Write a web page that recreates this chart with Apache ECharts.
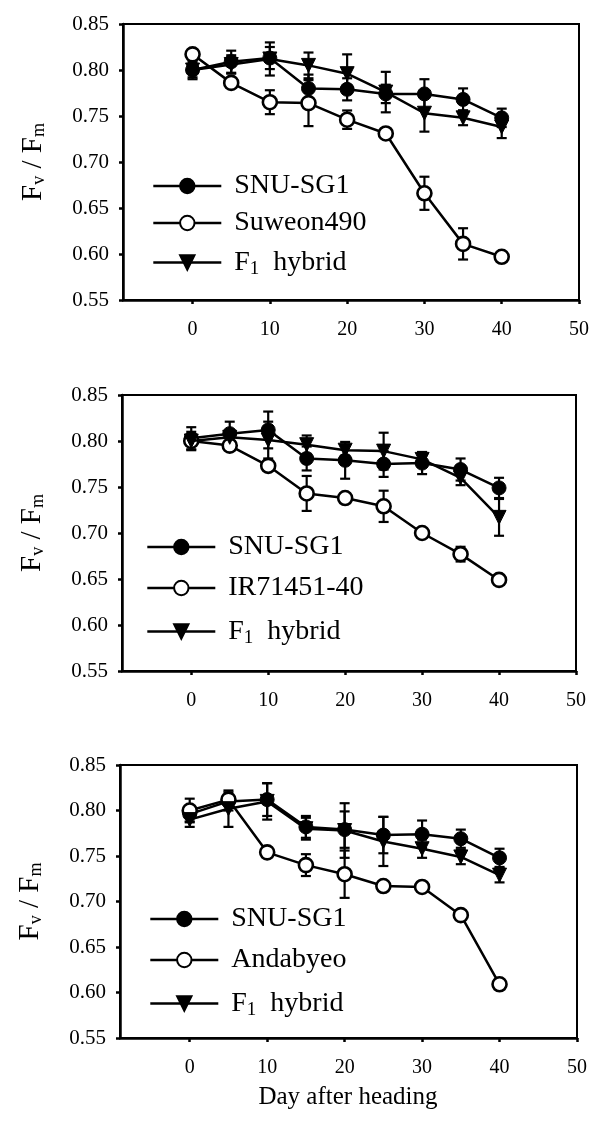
<!DOCTYPE html>
<html lang="en">
<head>
    <meta charset="utf-8">
    <title>Fv/Fm after heading</title>
    <script src="https://cdn.jsdelivr.net/npm/echarts@6/dist/echarts.min.js"></script>
</head>
<body style="margin:0; background:#fff;">
<div id="main" style="width:594px; height:1140px;"></div>
<script type="text/javascript">
    // days after heading
    const days = [0, 5, 10, 15, 20, 25, 30, 35, 40];
    const xTicks = [0, 10, 20, 30, 40, 50];

    // panel 1: SNU-SG1 x Suweon490
    const p1Snu = [0.800, 0.809, 0.813, 0.780, 0.779, 0.774, 0.774, 0.768, 0.748];
    const p1SnuErr = [0.010, 0.012, 0.012, 0.015, 0.012, 0.010, 0.016, 0.012, 0.010];
    const p1Par = [0.817, 0.786, 0.765, 0.764, 0.746, 0.731, 0.666, 0.611, 0.597];
    const p1ParErr = [0, 0, 0.013, 0.025, 0.010, 0, 0.018, 0.017, 0];
    const p1F1 = [0.800, 0.806, 0.812, 0.805, 0.796, 0.776, 0.753, 0.748, 0.738];
    const p1F1Err = [0.008, 0.010, 0.018, 0.014, 0.021, 0.022, 0.020, 0.008, 0.012];

    // panel 2: SNU-SG1 x IR71451-40
    const p2Snu = [0.803, 0.808, 0.812, 0.781, 0.779, 0.775, 0.776, 0.769, 0.749];
    const p2SnuErr = [0.012, 0.013, 0.020, 0.013, 0.020, 0.014, 0.012, 0.012, 0.011];
    const p2Par = [0.800, 0.795, 0.773, 0.743, 0.738, 0.729, 0.700, 0.677, 0.649];
    const p2ParErr = [0, 0, 0, 0.019, 0, 0.017, 0, 0.008, 0];
    const p2F1 = [0.800, 0.804, 0.801, 0.796, 0.790, 0.789, 0.780, 0.760, 0.717];
    const p2F1Err = [0.010, 0.008, 0.020, 0.010, 0.006, 0.020, 0.008, 0.008, 0.020];

    // panel 3: SNU-SG1 x Andabyeo
    const p3Snu = [0.796, 0.810, 0.812, 0.782, 0.779, 0.773, 0.774, 0.769, 0.748];
    const p3SnuErr = [0.008, 0.010, 0.018, 0.012, 0.020, 0.020, 0.015, 0.010, 0.010];
    const p3Par = [0.800, 0.812, 0.754, 0.740, 0.730, 0.717, 0.716, 0.685, 0.609];
    const p3ParErr = [0.013, 0, 0, 0.012, 0.026, 0, 0, 0, 0];
    const p3F1 = [0.790, 0.802, 0.810, 0.780, 0.778, 0.766, 0.758, 0.749, 0.729];
    const p3F1Err = [0.008, 0.020, 0.020, 0.012, 0.030, 0.027, 0.010, 0.008, 0.008];

    const parentNames = ['Suweon490', 'IR71451-40', 'Andabyeo'];

    const FONT = '"Liberation Serif", "Times New Roman", serif';

    const panels = [
        {snu: p1Snu, snuErr: p1SnuErr, par: p1Par, parErr: p1ParErr, f1: p1F1, f1Err: p1F1Err},
        {snu: p2Snu, snuErr: p2SnuErr, par: p2Par, parErr: p2ParErr, f1: p2F1, f1Err: p2F1Err},
        {snu: p3Snu, snuErr: p3SnuErr, par: p3Par, parErr: p3ParErr, f1: p3F1, f1Err: p3F1Err}
    ];
    const gridPos = [
        {left: 123, right: 15, top: 24, height: 276},
        {left: 122, right: 18, top: 395, height: 276},
        {left: 120, right: 17, top: 765, height: 273}
    ];
    const legendPos = [
        {left: 147, top: 167, gap: 9},
        {left: 141, top: 528, gap: 13},
        {left: 144, top: 900, gap: 13}
    ];

    function pairs(ys) {
        return days.map((d, i) => [d, ys[i]]);
    }
    function errData(ys, es) {
        const out = [];
        days.forEach((d, i) => { if (es[i] > 0) out.push([d, ys[i], es[i]]); });
        return out;
    }
    function renderErr(params, api) {
        const x = api.value(0), y = api.value(1), e = api.value(2);
        const top = api.coord([x, y + e]);
        const bot = api.coord([x, y - e]);
        const hw = 5;
        const st = {stroke: '#000', lineWidth: 2.2};
        return {
            type: 'group',
            children: [
                {type: 'line', shape: {x1: top[0], y1: top[1], x2: bot[0], y2: bot[1]}, style: st},
                {type: 'line', shape: {x1: top[0] - hw, y1: top[1], x2: top[0] + hw, y2: top[1]}, style: st},
                {type: 'line', shape: {x1: bot[0] - hw, y1: bot[1], x2: bot[0] + hw, y2: bot[1]}, style: st}
            ]
        };
    }

    const grids = [], xAxes = [], yAxes = [], series = [], legends = [];
    const textRich = {
        F: {fontFamily: FONT, fontSize: 28, color: '#000', lineHeight: 28},
        s: {fontFamily: FONT, fontSize: 19, color: '#000', lineHeight: 28, padding: [14, 0, 0, 0]}
    };

    panels.forEach((p, k) => {
        const g = gridPos[k];
        grids.push({
            left: g.left, right: g.right, top: g.top, height: g.height,
            show: true, borderColor: '#000', borderWidth: 2, backgroundColor: 'transparent'
        });
        xAxes.push({
            type: 'value', gridIndex: k, min: -9, max: 50,
            axisLine: {show: true, onZero: false, lineStyle: {color: '#000', width: 2.5}},
            axisTick: {show: true, customValues: xTicks, length: 4, lineStyle: {color: '#000', width: 2.5}},
            axisLabel: {customValues: xTicks, color: '#000', fontFamily: FONT, fontSize: 20, margin: 20},
            splitLine: {show: false}
        });
        yAxes.push({
            type: 'value', gridIndex: k, min: 0.55, max: 0.85, interval: 0.05,
            name: '{F|F}{s|v}{F| / F}{s|m}',
            nameLocation: 'middle', nameRotate: 90, nameGap: 74,
            nameTextStyle: {
                rich: {
                    F: {fontFamily: FONT, fontSize: 29, color: '#000', lineHeight: 32},
                    s: {fontFamily: FONT, fontSize: 18, color: '#000', lineHeight: 32, padding: [13, 0, 0, 0]}
                }
            },
            axisLine: {show: true, onZero: false, lineStyle: {color: '#000', width: 2.5}},
            axisTick: {show: true, length: 4, lineStyle: {color: '#000', width: 2.5}},
            axisLabel: {
                color: '#000', fontFamily: FONT, fontSize: 21, margin: 14,
                formatter: v => v.toFixed(2)
            },
            splitLine: {show: false}
        });

        const names = ['SNU-SG1', parentNames[k], 'F1 hybrid'];
        const ys = [p.snu, p.par, p.f1];
        const es = [p.snuErr, p.parErr, p.f1Err];
        const sym = [
            {symbol: 'circle', itemStyle: {color: '#000', borderColor: '#000', borderWidth: 1}},
            {symbol: 'circle', itemStyle: {color: '#fff', borderColor: '#000', borderWidth: 2.6}},
            {symbol: 'triangle', symbolRotate: 180, itemStyle: {color: '#000', borderColor: '#000', borderWidth: 1}}
        ];
        ys.forEach((y, j) => {
            series.push({
                type: 'custom', name: 'err' + k + j,
                xAxisIndex: k, yAxisIndex: k, z: 1,
                renderItem: renderErr, data: errData(y, es[j]), silent: true
            });
        });
        ys.forEach((y, j) => {
            series.push(Object.assign({
                type: 'line', name: names[j],
                xAxisIndex: k, yAxisIndex: k, z: 2 + j,
                data: pairs(y), symbolSize: 14,
                lineStyle: {color: '#000', width: 2.5},
                emphasis: {disabled: true}, animation: false
            }, sym[j]));
        });

        const lp = legendPos[k];
        legends.push({
            orient: 'vertical', left: lp.left, top: lp.top,
            itemWidth: 68, itemHeight: 18, itemGap: lp.gap,
            selectedMode: false,
            data: names,
            lineStyle: {color: '#000', width: 2.6},
            formatter: n => n === 'F1 hybrid' ? '{F|F}{s|1}{F|  hybrid}' : '{F|' + n + '}',
            textStyle: {padding: [0, 0, 0, 8], rich: textRich}
        });
    });

    const myChart = echarts.init(document.getElementById('main'));
    const option = {
        backgroundColor: '#fff',
        animation: false,
        grid: grids,
        xAxis: xAxes,
        yAxis: yAxes,
        legend: legends,
        series: series,
        graphic: [{
            type: 'text', x: 348, y: 1097,
            style: {
                text: 'Day after heading', fill: '#000',
                font: '25px "Liberation Serif", serif',
                align: 'center', verticalAlign: 'middle'
            }
        }]
    };
    myChart.setOption(option);
</script>
</body>
</html>
